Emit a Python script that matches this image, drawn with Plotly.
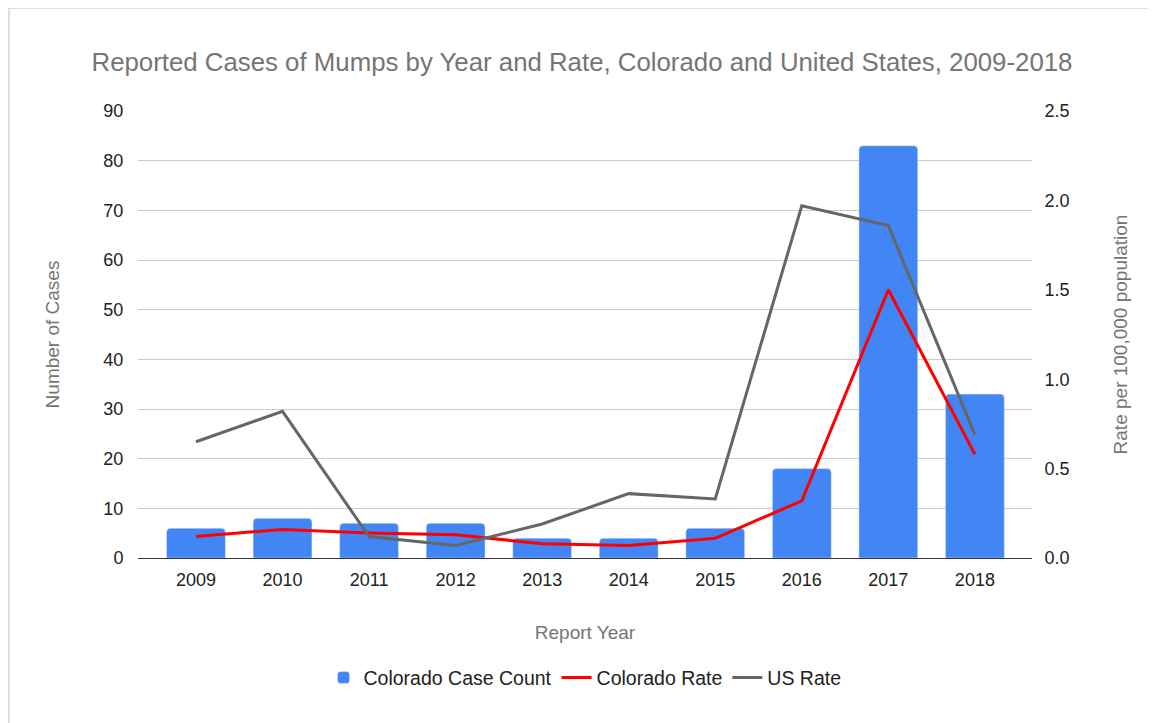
import plotly.graph_objects as go

years = ["2009", "2010", "2011", "2012", "2013", "2014", "2015", "2016", "2017", "2018"]
co_cases = [6, 8, 7, 7, 4, 4, 6, 18, 83, 33]
co_rate = [0.12, 0.16, 0.14, 0.13, 0.08, 0.07, 0.11, 0.32, 1.50, 0.58]
us_rate = [0.65, 0.82, 0.12, 0.07, 0.19, 0.36, 0.33, 1.97, 1.86, 0.69]

FONT = "Liberation Sans, Arial, sans-serif"
GRAY_TEXT = "#757575"

fig = go.Figure()
fig.add_trace(go.Bar(
    x=years, y=co_cases, name="Colorado Case Count",
    marker=dict(color="#4285F4", cornerradius=4),
    width=0.68,
))
fig.add_trace(go.Scatter(
    x=years, y=co_rate, name="Colorado Rate", yaxis="y2",
    mode="lines", line=dict(color="#FF0000", width=3),
))
fig.add_trace(go.Scatter(
    x=years, y=us_rate, name="US Rate", yaxis="y2",
    mode="lines", line=dict(color="#666666", width=3),
))

# page body has an 8px margin, so the figure is a bit smaller than the window
fig.update_layout(
    width=1148, height=715,
    margin=dict(l=130, r=124, t=103, b=165),
    paper_bgcolor="white", plot_bgcolor="white",
    font=dict(family=FONT, size=18, color="#222222"),
    title=dict(
        text="Reported Cases of Mumps by Year and Rate, Colorado and United States, 2009-2018",
        x=0.5, xanchor="center", y=0.9245, yanchor="middle",
        font=dict(size=25.8, color=GRAY_TEXT),
    ),
    xaxis=dict(
        type="category", range=[-0.67, 9.66],
        showgrid=False, ticks="outside", ticklen=5, tickcolor="rgba(0,0,0,0)",
        tickfont=dict(size=18),
        title=dict(text="Report Year", font=dict(size=19, color=GRAY_TEXT), standoff=37),
        showline=True, linecolor="#333333", linewidth=1,
    ),
    yaxis=dict(
        range=[0, 90], dtick=10, showgrid=True, gridcolor="#cccccc",
        zeroline=False, tickfont=dict(size=18),
        ticks="outside", ticklen=10, tickcolor="rgba(0,0,0,0)",
        title=dict(text="Number of Cases", font=dict(size=19, color=GRAY_TEXT), standoff=38),
    ),
    yaxis2=dict(
        overlaying="y", side="right", range=[0, 2.5], dtick=0.5,
        tickformat=".1f", showgrid=False, zeroline=False, tickfont=dict(size=18),
        ticks="outside", ticklen=8, tickcolor="rgba(0,0,0,0)",
        title=dict(text="Rate per 100,000 population", font=dict(size=19, color=GRAY_TEXT), standoff=45),
    ),
    legend=dict(
        orientation="h", x=0.5, xanchor="center", y=-0.268, yanchor="middle",
        font=dict(size=19.5, color="#222222"), traceorder="normal",
    ),
    showlegend=True,
)

# outer chart border
fig.add_shape(
    type="rect", xref="paper", yref="paper",
    x0=-0.1443, x1=1.132, y0=-0.4, y1=1.2304,
    line=dict(color="#bdbdbd", width=1), layer="below",
)

fig.write_html("out.html")
